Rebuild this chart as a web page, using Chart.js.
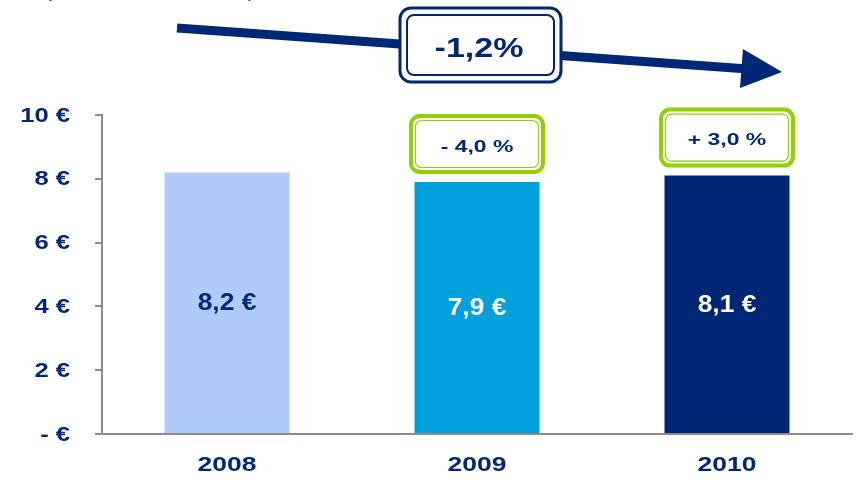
<!DOCTYPE html>
<html>
<head>
<meta charset="utf-8">
<script src="https://cdn.jsdelivr.net/npm/chart.js@4/dist/chart.umd.min.js"></script>
<style>
  html, body { margin: 0; padding: 0; background: #fff; }
  #wrap { width: 856px; height: 479px; position: relative; }
</style>
</head>
<body>
<div id="wrap"><canvas id="chart" width="856" height="479"></canvas></div>
<script>
// ── data ──
const years = ['2008', '2009', '2010'];
const values = [8.2, 7.9, 8.1];
const valueLabels = ['8,2 €', '7,9 €', '8,1 €'];
const changeLabels = [null, '- 4,0 %', '+ 3,0 %'];
const trendLabel = '-1,2%';
const yTicks = [0, 2, 4, 6, 8, 10];
const yTickLabels = ['- €', '2 €', '4 €', '6 €', '8 €', '10 €'];
const subtitle = '(Dividende in Euro)';

const NAVY = '#002776';
const GREEN = '#94CF00';
const barColors = ['#B0CBFA', '#00A0DC', NAVY];
const labelColors = [NAVY, '#ffffff', '#ffffff'];
const FONT = "Arial, 'Liberation Sans', sans-serif";

function roundRect(ctx, x, y, w, h, r) {
  ctx.beginPath();
  ctx.moveTo(x + r, y);
  ctx.lineTo(x + w - r, y);
  ctx.arcTo(x + w, y, x + w, y + r, r);
  ctx.lineTo(x + w, y + h - r);
  ctx.arcTo(x + w, y + h, x + w - r, y + h, r);
  ctx.lineTo(x + r, y + h);
  ctx.arcTo(x, y + h, x, y + h - r, r);
  ctx.lineTo(x, y + r);
  ctx.arcTo(x, y, x + r, y, r);
  ctx.closePath();
}

// the source slide uses horizontally stretched type, so text is drawn scaled in x
function stretchText(ctx, text, x, y, size, sx, align, color) {
  ctx.save();
  ctx.translate(x, y);
  ctx.scale(sx, 1);
  ctx.font = 'bold ' + size + 'px ' + FONT;
  ctx.textAlign = align;
  ctx.textBaseline = 'middle';
  ctx.fillStyle = color;
  ctx.fillText(text, 0, 0);
  ctx.restore();
}

const annotations = {
  id: 'annotations',
  afterDraw(chart) {
    const ctx = chart.ctx;
    const xs = chart.scales.x, ys = chart.scales.y;
    const meta = chart.getDatasetMeta(0);

    // axis tick labels
    yTicks.forEach((v, i) => {
      stretchText(ctx, yTickLabels[i], 70, ys.getPixelForValue(v) + 1, 20, 1.28, 'right', NAVY);
    });
    years.forEach((y, i) => {
      stretchText(ctx, y, xs.getPixelForTick(i), ys.bottom + 31, 21, 1.26, 'center', NAVY);
    });

    ctx.save();
    meta.data.forEach((bar, i) => {
      stretchText(ctx, valueLabels[i], bar.x, (bar.y + bar.base) / 2 + 1, 24, 1.1, 'center', labelColors[i]);

      if (changeLabels[i]) {
        const w = 132, h = 56;
        const bx = bar.x - w / 2, by = bar.y - 10 - h;
        ctx.fillStyle = '#fff';
        ctx.strokeStyle = GREEN;
        ctx.lineWidth = 4;
        roundRect(ctx, bx, by, w, h, 9);
        ctx.fill();
        ctx.stroke();
        ctx.lineWidth = 1.2;
        roundRect(ctx, bx + 4.5, by + 4.5, w - 9, h - 9, 6);
        ctx.stroke();
        stretchText(ctx, changeLabels[i], bar.x, by + h / 2 + 3, 17, 1.35, 'center', NAVY);
      }
    });

    // trend arrow
    ctx.strokeStyle = NAVY;
    ctx.fillStyle = NAVY;
    ctx.lineWidth = 9;
    ctx.beginPath();
    ctx.moveTo(177, 28);
    ctx.lineTo(748, 69);
    ctx.stroke();
    ctx.beginPath();
    ctx.moveTo(782, 72);
    ctx.lineTo(743, 49);
    ctx.lineTo(740, 88);
    ctx.closePath();
    ctx.fill();

    // trend box
    ctx.fillStyle = '#fff';
    ctx.lineWidth = 3;
    roundRect(ctx, 400, 8, 161, 74, 11);
    ctx.fill();
    ctx.stroke();
    ctx.lineWidth = 2;
    roundRect(ctx, 407, 15, 147, 60, 7);
    ctx.stroke();
    stretchText(ctx, trendLabel, 479, 50, 27, 1.26, 'center', NAVY);

    // subtitle, cut off by the top edge
    ctx.font = '20px ' + FONT;
    const tw = ctx.measureText(subtitle).width;
    ctx.translate(44, -3);
    ctx.scale(212 / tw, 1);
    ctx.textAlign = 'left';
    ctx.textBaseline = 'alphabetic';
    ctx.fillStyle = '#2a4a9a';
    ctx.fillText(subtitle, 0, 0);
    ctx.restore();
  }
};

new Chart(document.getElementById('chart'), {
  type: 'bar',
  data: {
    labels: years,
    datasets: [{
      data: values,
      backgroundColor: barColors,
      borderWidth: 0,
      barPercentage: 0.5,
      categoryPercentage: 1.0
    }]
  },
  options: {
    responsive: false,
    animation: false,
    layout: { padding: { top: 115, right: 4, left: 0, bottom: 0 } },
    plugins: { legend: { display: false }, tooltip: { enabled: false } },
    scales: {
      x: {
        grid: { display: false, drawTicks: false },
        border: { display: true, color: '#8c8c8c', width: 2 },
        ticks: { display: false },
        afterFit(scale) { scale.height = 45; }
      },
      y: {
        min: 0,
        max: 10,
        afterBuildTicks(scale) { scale.ticks = yTicks.map(v => ({ value: v })); },
        grid: { drawOnChartArea: false, drawTicks: true, tickLength: 7, color: '#8c8c8c', lineWidth: 2 },
        border: { display: true, color: '#8c8c8c', width: 2 },
        ticks: { display: false },
        afterFit(scale) { scale.width = 102; }
      }
    }
  },
  plugins: [annotations]
});
</script>
</body>
</html>
